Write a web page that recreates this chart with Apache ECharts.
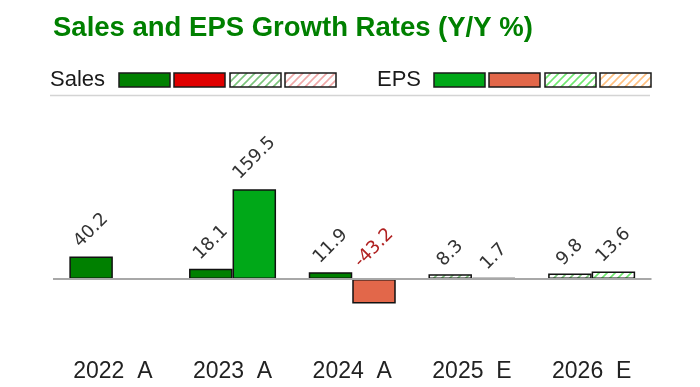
<!DOCTYPE html>
<html><head><meta charset="utf-8">
<script src="https://cdn.jsdelivr.net/npm/echarts@6/dist/echarts.min.js"></script>
<style>html,body{margin:0;padding:0;background:#fff}#c{width:700px;height:387px}</style>
</head><body><div id="c"></div>
<script>
// ---- data ----
const categories = ['2022  A', '2023  A', '2024  A', '2025  E', '2026  E'];
const salesGrowth = [40.2, 18.1, 11.9, 8.3, 9.8];
const epsGrowth = [null, 159.5, -43.2, 1.7, 13.6];
const isEstimate = [false, false, false, true, true];
const legendSeries = ['Sales', 'EPS'];

function hatch(stroke) {
  const c = document.createElement('canvas'); c.width = 8; c.height = 8;
  const g = c.getContext('2d');
  g.fillStyle = '#fff'; g.fillRect(0, 0, 8, 8);
  g.strokeStyle = stroke; g.lineWidth = 1.6;
  g.beginPath();
  g.moveTo(0, 8); g.lineTo(8, 0);
  g.moveTo(-4, 4); g.lineTo(4, -4);
  g.moveTo(4, 12); g.lineTo(12, 4);
  g.stroke();
  return { image: c, repeat: 'repeat' };
}

const palette = {
  Sales: { pos: '#008000', neg: '#e00000', estPos: hatch('#7cc47c'), estNeg: hatch('#f0a8a8') },
  EPS:   { pos: '#00a818', neg: '#e2674a', estPos: hatch('#70e870'), estNeg: hatch('#ffc080') }
};

function buildData(values, pal) {
  return values.map((v, i) => {
    if (v === null) return null;
    const neg = v < 0;
    const txt = String(v);
    const color = isEstimate[i] ? (neg ? pal.estNeg : pal.estPos) : (neg ? pal.neg : pal.pos);
    return {
      value: v,
      itemStyle: { color: color },
      label: { distance: 6 + 5 * txt.length, color: neg ? '#b02020' : '#333' }
    };
  });
}

const labelStyle = {
  show: true, position: 'top', rotate: 45, align: 'center', verticalAlign: 'middle',
  fontFamily: 'DejaVu Sans', fontSize: 18, color: '#333'
};

function legendGraphics() {
  const els = [];
  const groups = [
    { name: legendSeries[0], tx: 50, sx: [119, 174, 230, 285], pal: palette.Sales },
    { name: legendSeries[1], tx: 377, sx: [434, 489, 545, 600], pal: palette.EPS }
  ];
  groups.forEach(gp => {
    els.push({ type: 'text', x: gp.tx, y: 80, style: { text: gp.name, font: '22px "Liberation Sans", Arial', fill: '#1a1a1a', verticalAlign: 'middle' } });
    const fills = [gp.pal.pos, gp.pal.neg, gp.pal.estPos, gp.pal.estNeg];
    gp.sx.forEach((x, k) => {
      els.push({ type: 'rect', shape: { x: x, y: 73, width: 51, height: 14 }, style: { fill: fills[k], stroke: '#1a1a1a', lineWidth: 1.5 } });
    });
  });
  els.push({ type: 'line', shape: { x1: 50, y1: 95.5, x2: 650, y2: 95.5 }, style: { stroke: '#d4d4d4', lineWidth: 1.5 } });
  return els;
}

const chart = echarts.init(document.getElementById('c'));
chart.setOption({
  animation: false,
  title: {
    text: 'Sales and EPS Growth Rates (Y/Y %)', left: 48, top: 9,
    textStyle: { fontFamily: '"Liberation Sans", Arial', fontWeight: 'bold', fontSize: 27.5, color: '#008000' }
  },
  graphic: legendGraphics(),
  grid: { left: 53, right: 48.5, top: 110, bottom: 51.6 },
  xAxis: {
    type: 'category', data: categories,
    axisLine: { show: false, onZero: false }, axisTick: { show: false },
    axisLabel: { fontFamily: '"Liberation Sans", Arial', fontSize: 23, color: '#222', margin: 25 }
  },
  yAxis: { type: 'value', min: -100, max: 300, show: false, splitLine: { show: false } },
  series: [
    {
      name: 'Sales', type: 'bar', barWidth: 43.5, barGap: '0%',
      data: buildData(salesGrowth, palette.Sales),
      itemStyle: { borderColor: '#111', borderWidth: 1.5 },
      label: labelStyle,
      markLine: {
        silent: true, symbol: ['none', 'none'], label: { show: false },
        lineStyle: { color: '#a8a8a8', width: 2, type: 'solid' },
        data: [{ yAxis: 0 }]
      }
    },
    {
      name: 'EPS', type: 'bar', barWidth: 43.5, barGap: '0%',
      data: buildData(epsGrowth, palette.EPS),
      itemStyle: { borderColor: '#111', borderWidth: 1.5 },
      label: labelStyle
    }
  ]
});
</script></body></html>
